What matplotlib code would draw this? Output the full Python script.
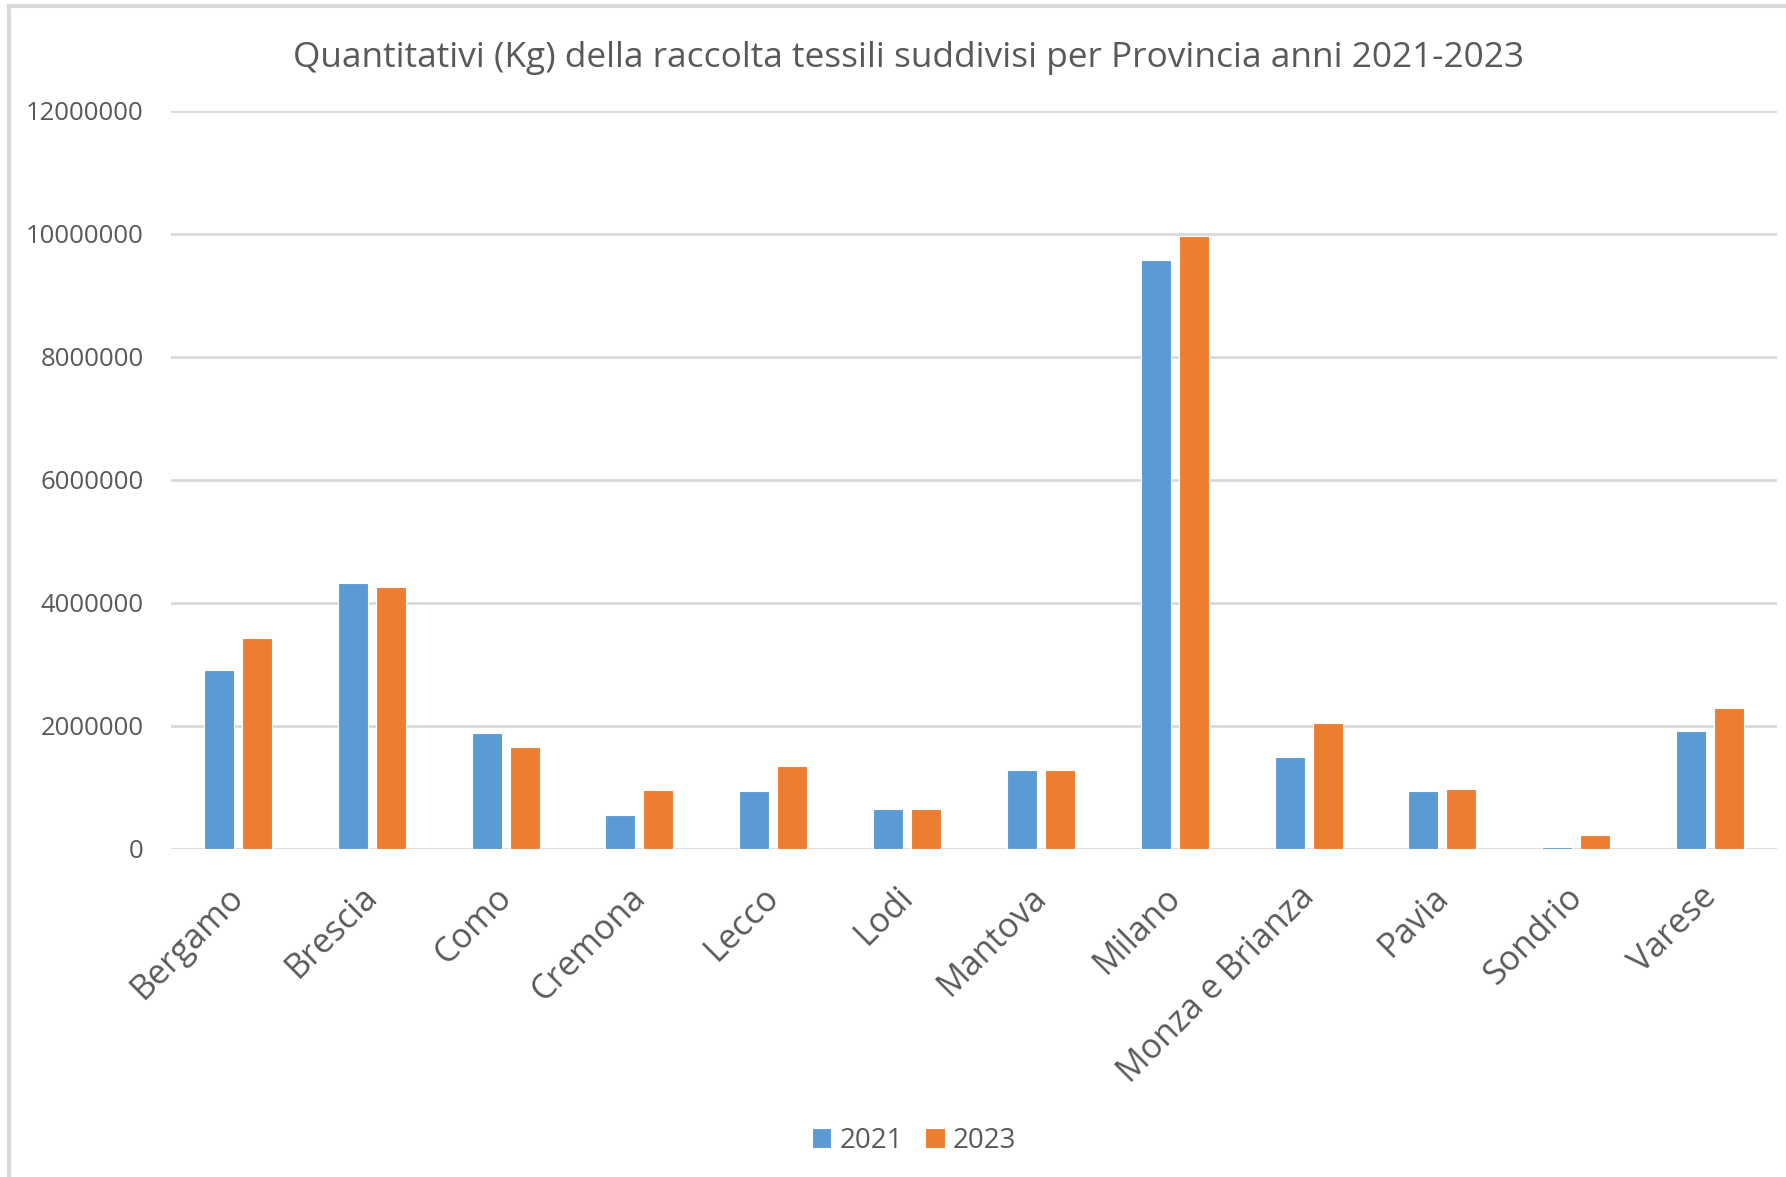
import numpy as np
import matplotlib.pyplot as plt
from matplotlib.patches import Rectangle
from matplotlib.transforms import ScaledTranslation

# data
province = ['Bergamo', 'Brescia', 'Como', 'Cremona', 'Lecco', 'Lodi', 'Mantova',
            'Milano', 'Monza e Brianza', 'Pavia', 'Sondrio', 'Varese']
kg_2021 = [2913000, 4326000, 1891000, 560000, 935000, 650000, 1280000,
           9577000, 1499000, 948000, 33000, 1913000]
kg_2023 = [3429000, 4261000, 1652000, 957000, 1342000, 650000, 1280000,
           9967000, 2044000, 970000, 234000, 2289000]
years = ['2021', '2023']
yticks = [0, 2000000, 4000000, 6000000, 8000000, 10000000, 12000000]

blue = '#5B9BD5'
orange = '#ED7D31'
grey_txt = '#595959'
grid_col = '#D9D9D9'

plt.rcParams['font.family'] = ['Open Sans', 'DejaVu Sans']

fig = plt.figure(figsize=(17.86, 11.77), dpi=100)
ax = fig.add_axes([0.0957, 0.2787, 0.8993, 0.6273])

# outer chart frame (left and top edges visible)
fig.patches.append(Rectangle((0.005, -0.1), 1.2, 1.095, transform=fig.transFigure,
                             fill=False, edgecolor=grid_col, linewidth=3))

x = np.arange(len(province))
w = 0.224
off = 0.142
ax.bar(x - off, kg_2021, w, color=blue, edgecolor='white', linewidth=0.8, label=years[0], zorder=3)
ax.bar(x + off, kg_2023, w, color=orange, edgecolor='white', linewidth=0.8, label=years[1], zorder=3)

ax.set_xlim(-0.5, len(province) - 0.5)
ax.set_ylim(0, 12000000)
ax.set_yticks(yticks)
ax.set_yticklabels([str(v) for v in yticks])
ax.yaxis.grid(True, color=grid_col, linewidth=2, zorder=0)
ax.set_axisbelow(True)
for s in ax.spines.values():
    s.set_visible(False)
ax.tick_params(axis='both', length=0, colors=grey_txt)
ax.tick_params(axis='y', labelsize=18.5, pad=19.5)

ax.set_xticks(x)
ax.set_xticklabels(province, rotation=45, ha='right', rotation_mode='anchor',
                   fontsize=24.5, color=grey_txt)
ax.tick_params(axis='x', pad=18)
# nudge rotated labels a bit left/down like the original
shift = ScaledTranslation(-0.11, -0.06, fig.dpi_scale_trans)
for lab in ax.get_xticklabels():
    lab.set_transform(lab.get_transform() + shift)

fig.text(0.5085, 0.951, 'Quantitativi (Kg) della raccolta tessili suddivisi per Provincia anni 2021-2023',
         ha='center', va='center', fontsize=25.4, color=grey_txt)

leg = fig.legend(loc='center', bbox_to_anchor=(0.5118, 0.031), ncol=2, frameon=False,
                 fontsize=20, handlelength=0.7, handleheight=0.7, handletextpad=0.3,
                 columnspacing=0.8)
for t in leg.get_texts():
    t.set_color(grey_txt)

fig.savefig('out.png', dpi=100)
